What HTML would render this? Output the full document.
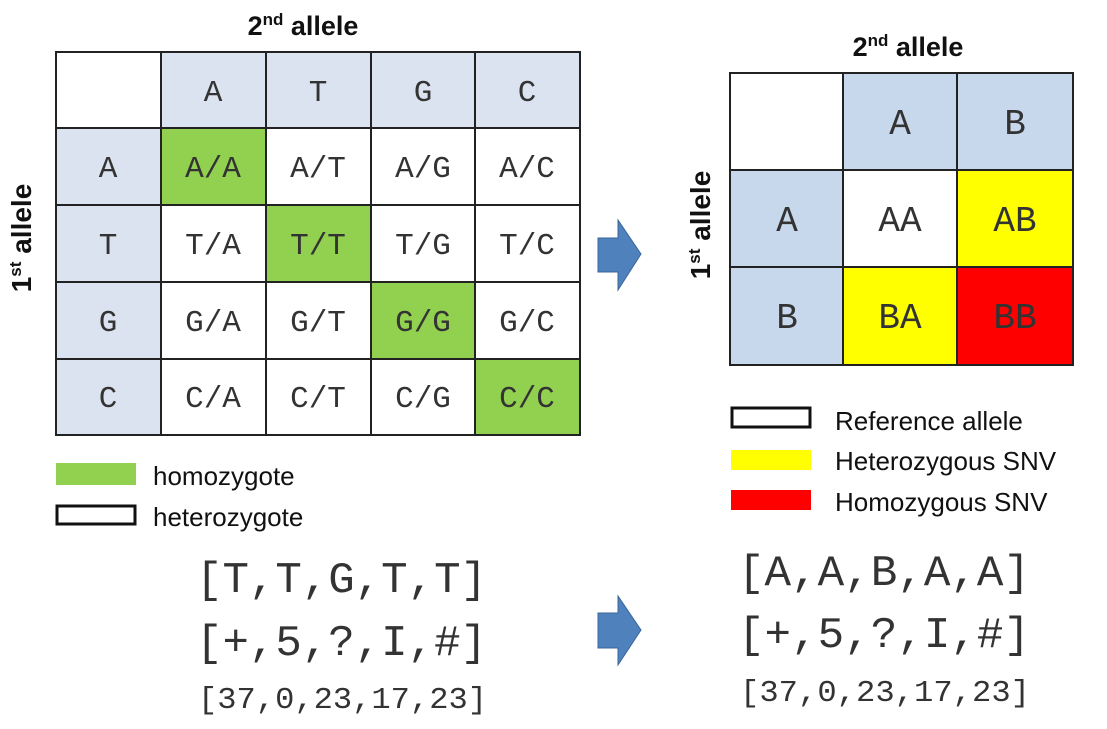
<!DOCTYPE html>
<html><head><style>
body{margin:0;background:#fff;}
svg{display:block;}
.m{font-family:"Liberation Mono","DejaVu Sans Mono",monospace;fill:#333;}
.s{font-family:"Liberation Sans",sans-serif;fill:#111;}
</style></head><body>
<svg width="1107" height="729" viewBox="0 0 1107 729" xmlns="http://www.w3.org/2000/svg">
<g stroke="none">
<rect x="161" y="52" width="419" height="76" fill="#dce3f0"/>
<rect x="56" y="128" width="105" height="307" fill="#dce3f0"/>
<rect x="161" y="128" width="105" height="77" fill="#92d050"/>
<rect x="266" y="205" width="105" height="77" fill="#92d050"/>
<rect x="371" y="282" width="104" height="77" fill="#92d050"/>
<rect x="475" y="359" width="105" height="76" fill="#92d050"/>
</g>
<g stroke="#222" stroke-width="2" fill="none">
<rect x="56" y="52" width="524" height="383"/>
<line x1="161" y1="52" x2="161" y2="435"/><line x1="266" y1="52" x2="266" y2="435"/>
<line x1="371" y1="52" x2="371" y2="435"/><line x1="475" y1="52" x2="475" y2="435"/>
<line x1="56" y1="128" x2="580" y2="128"/><line x1="56" y1="205" x2="580" y2="205"/>
<line x1="56" y1="282" x2="580" y2="282"/><line x1="56" y1="359" x2="580" y2="359"/>
</g>
<g class="m" font-size="31" text-anchor="middle">
<text x="213" y="101">A</text><text x="318" y="101">T</text><text x="423" y="101">G</text><text x="527" y="101">C</text>
<text x="108" y="177">A</text><text x="213" y="177">A/A</text><text x="318" y="177">A/T</text><text x="423" y="177">A/G</text><text x="527" y="177">A/C</text>
<text x="108" y="254">T</text><text x="213" y="254">T/A</text><text x="318" y="254">T/T</text><text x="423" y="254">T/G</text><text x="527" y="254">T/C</text>
<text x="108" y="331">G</text><text x="213" y="331">G/A</text><text x="318" y="331">G/T</text><text x="423" y="331">G/G</text><text x="527" y="331">G/C</text>
<text x="108" y="407">C</text><text x="213" y="407">C/A</text><text x="318" y="407">C/T</text><text x="423" y="407">C/G</text><text x="527" y="407">C/C</text>
</g>
<text class="s" x="303" y="35" font-size="27" font-weight="bold" text-anchor="middle">2<tspan font-size="17" dy="-10">nd</tspan><tspan dy="10"> allele</tspan></text>
<text class="s" transform="translate(31,238) rotate(-90)" font-size="28" font-weight="bold" text-anchor="middle">1<tspan font-size="17" dy="-10">st</tspan><tspan dy="10">  allele</tspan></text>

<rect x="843" y="73" width="230" height="97" fill="#c8d8ec"/>
<rect x="730" y="170" width="113" height="195" fill="#c8d8ec"/>
<rect x="957" y="170" width="116" height="97" fill="#ffff00"/>
<rect x="843" y="267" width="114" height="98" fill="#ffff00"/>
<rect x="957" y="267" width="116" height="98" fill="#ff0000"/>
<g stroke="#222" stroke-width="2" fill="none">
<rect x="730" y="73" width="343" height="292"/>
<line x1="843" y1="73" x2="843" y2="365"/><line x1="957" y1="73" x2="957" y2="365"/>
<line x1="730" y1="170" x2="1073" y2="170"/><line x1="730" y1="267" x2="1073" y2="267"/>
</g>
<g class="m" font-size="36" text-anchor="middle">
<text x="900" y="134">A</text><text x="1015" y="134">B</text>
<text x="787" y="231">A</text><text x="900" y="231">AA</text><text x="1015" y="231">AB</text>
<text x="787" y="328">B</text><text x="900" y="328">BA</text><text x="1015" y="328">BB</text>
</g>
<text class="s" x="908" y="56" font-size="27" font-weight="bold" text-anchor="middle">2<tspan font-size="17" dy="-10">nd</tspan><tspan dy="10"> allele</tspan></text>
<text class="s" transform="translate(710,225) rotate(-90)" font-size="28" font-weight="bold" text-anchor="middle">1<tspan font-size="17" dy="-10">st</tspan><tspan dy="10">  allele</tspan></text>

<path d="M598,238 L618,238 L618,220 L641,254 L618,290 L618,272 L598,272 Z" fill="#4f81bd" stroke="#3a6699" stroke-width="1"/>
<path d="M598,613 L618,613 L618,596 L641,630 L618,665 L618,648 L598,648 Z" fill="#4f81bd" stroke="#3a6699" stroke-width="1"/>

<rect x="56" y="463" width="80" height="22" fill="#92d050"/>
<rect x="57" y="506" width="78" height="18" fill="#fff" stroke="#111" stroke-width="3"/>
<text class="s" x="153" y="485" font-size="26" fill="#222">homozygote</text>
<text class="s" x="153" y="526" font-size="26" fill="#222">heterozygote</text>

<rect x="732" y="408" width="78" height="19" fill="#fff" stroke="#111" stroke-width="3"/>
<rect x="731" y="450" width="80" height="20" fill="#ffff00"/>
<rect x="731" y="490" width="80" height="20" fill="#ff0000"/>
<text class="s" x="835" y="430" font-size="26" fill="#222">Reference allele</text>
<text class="s" x="835" y="470" font-size="26" fill="#222">Heterozygous SNV</text>
<text class="s" x="835" y="511" font-size="26" fill="#222">Homozygous SNV</text>

<g class="m">
<text x="196" y="592" font-size="44" textLength="291" lengthAdjust="spacingAndGlyphs">[T,T,G,T,T]</text>
<text x="196" y="655" font-size="44" textLength="291" lengthAdjust="spacingAndGlyphs">[+,5,?,I,#]</text>
<text x="198" y="708" font-size="31" textLength="289" lengthAdjust="spacingAndGlyphs">[37,0,23,17,23]</text>
<text x="738" y="585" font-size="44" textLength="292" lengthAdjust="spacingAndGlyphs">[A,A,B,A,A]</text>
<text x="738" y="647" font-size="44" textLength="292" lengthAdjust="spacingAndGlyphs">[+,5,?,I,#]</text>
<text x="740" y="701" font-size="31" textLength="290" lengthAdjust="spacingAndGlyphs">[37,0,23,17,23]</text>
</g>
</svg>
</body></html>
